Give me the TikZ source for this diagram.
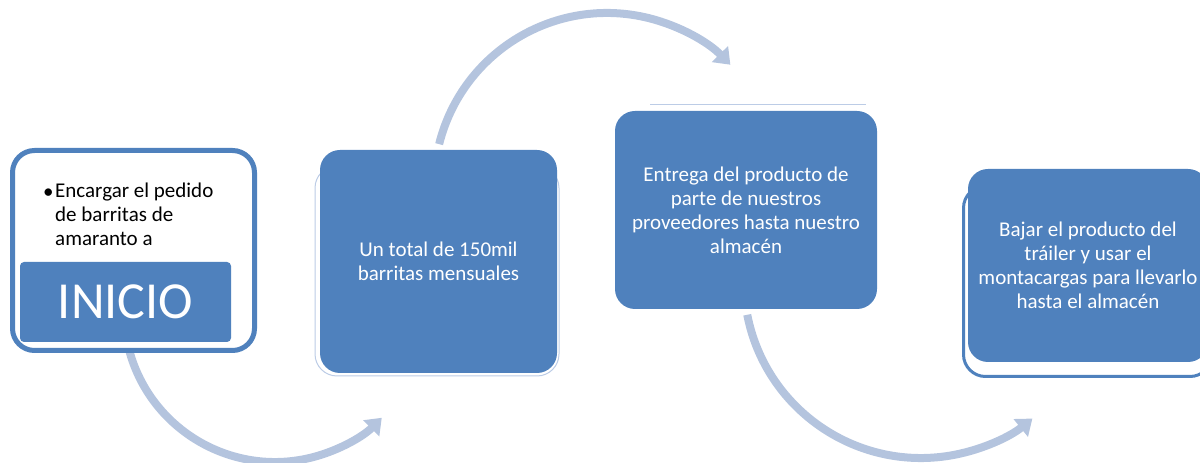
\documentclass[tikz,border=0pt]{standalone}
\usepackage{fontspec}
\setmainfont{Carlito}
\usetikzlibrary{arrows.meta}
\definecolor{boxblue}{RGB}{79,129,189}
\definecolor{arrowblue}{RGB}{180,196,222}
\definecolor{faintblue}{RGB}{188,204,230}
\begin{document}
\begin{tikzpicture}[x=1pt,y=1pt,
  bluebox/.style={rectangle, rounded corners=20pt, fill=boxblue, text=white,
    align=center, font=\fontsize{21}{24}\selectfont, inner sep=0pt},
  shadowframe/.style={rectangle, rounded corners=22pt, fill=white, inner sep=0pt},
  flowarrow/.style={draw=arrowblue, line width=8pt,
    -{Triangle[length=15pt,width=22pt]}},
  bodytext/.style={inner sep=0pt, font=\fontsize{21}{24}\selectfont},
]
\useasboundingbox (0,0) rectangle (1200,463);
\clip (0,0) rectangle (1200,463);

% curved arrows (behind the boxes)
\coordinate (a1s) at ([shift={(275,152)}]195:151pt);
\draw[flowarrow] (a1s) arc[start angle=195, end angle=315, radius=151pt];
\coordinate (a2s) at ([shift={(607,277)}]166:173pt);
\draw[flowarrow] (a2s) arc[start angle=166, end angle=44.5, radius=173pt];
\coordinate (a3s) at ([shift={(921,182)}]191:177pt);
\draw[flowarrow] (a3s) arc[start angle=191, end angle=309, radius=177pt];

% box 1
\node[draw=boxblue, line width=5pt, fill=white, rounded corners=22pt,
      minimum width=242pt, minimum height=200pt, inner sep=0pt] (b1) at (133.5,212.5) {};
\node[fill=boxblue, rounded corners=4pt, minimum width=211pt, minimum height=80pt,
      text=white, font=\fontsize{52}{60}\selectfont, inner sep=0pt] (ini) at (125.5,161) {INICIO};
\node[bodytext, anchor=base west] (bul) at (43,264) {\textbullet};
\node[bodytext, anchor=base west, align=left] (t1) at (55,217)
  {Encargar el pedido\\de barritas de\\amaranto a};

% box 2
\node[shadowframe, draw=faintblue, line width=1pt, minimum width=244pt,
      minimum height=210pt] (f2) at (437,192) {};
\node[bluebox, minimum width=237pt, minimum height=223pt] (b2) at (438.5,201.5)
  {Un total de 150mil\\barritas mensuales};

% box 3
\coordinate (l3a) at (650,358);
\coordinate (l3b) at (866,358);
\draw[faintblue, line width=1pt] (l3a) -- (l3b);
\node[bluebox, minimum width=262pt, minimum height=198pt] (b3) at (746,253)
  {Entrega del producto de\\parte de nuestros\\proveedores hasta nuestro\\almacén};

% box 4
\node[shadowframe, draw=boxblue, line width=3pt, minimum width=248.5pt,
      minimum height=190.5pt] (f4) at (1087.75,181.75) {};
\node[bluebox, minimum width=240pt, minimum height=193pt] (b4) at (1088,197.5)
  {Bajar el producto del\\tráiler y usar el\\montacargas para llevarlo\\hasta el almacén};
\end{tikzpicture}
\end{document}
